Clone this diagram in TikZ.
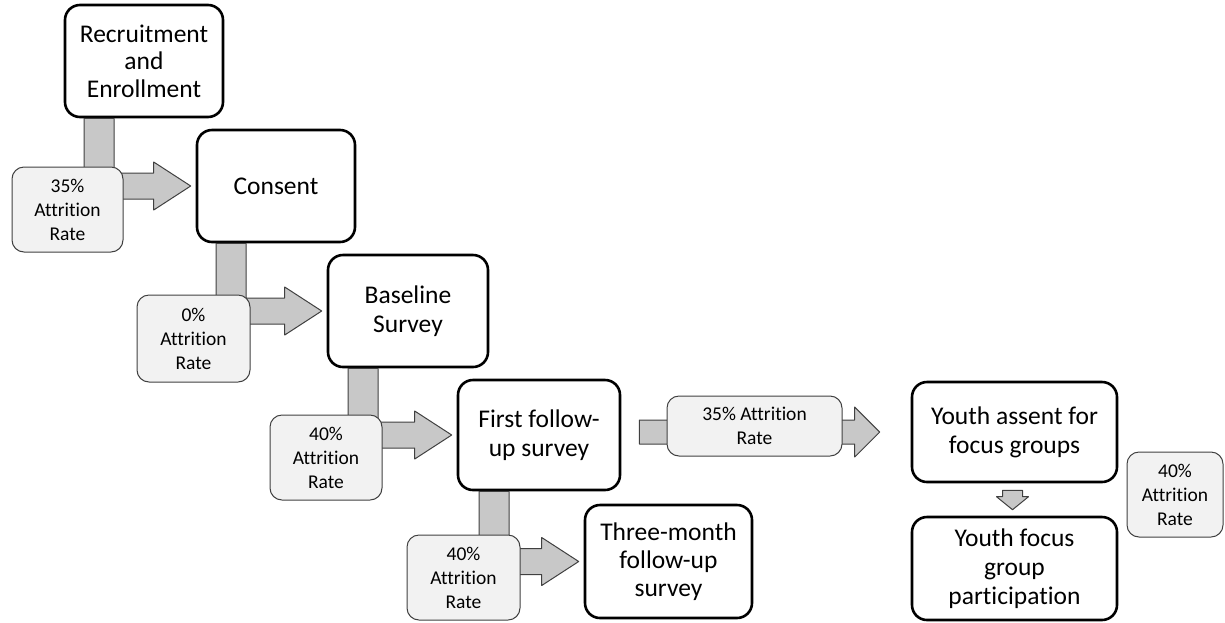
\documentclass[tikz,border=0pt]{standalone}
\usepackage{fontspec}
\setmainfont{Carlito}[Ligatures=NoCommon]
\usetikzlibrary{calc}
\definecolor{ratefill}{HTML}{F2F2F2}
\definecolor{arrowfill}{HTML}{C8C8C8}
\definecolor{edgegray}{HTML}{404040}
% bent arrow from the bottom of one stage to the left of the next
\newcommand{\bendarrow}[2]{%
  \draw[flow] let \p1=($(#1.south)+(-45,0)$), \p2=($(#2.west)+(-5,0)$) in
    (\x1-15pt,\y1) -- (\x1+15pt,\y1) -- (\x1+15pt,\y2+13pt) -- (\x2-37pt,\y2+13pt)
    -- (\x2-37pt,\y2+24pt) -- (\x2,\y2) -- (\x2-37pt,\y2-24pt) -- (\x2-37pt,\y2-13pt)
    -- (\x1-15pt,\y2-13pt) -- cycle;}
\begin{document}
\begin{tikzpicture}[x=1pt, y=-1pt, line join=round,
    stage/.style={draw=black, line width=2.6pt, fill=white, rounded corners=15pt,
      align=center, inner sep=0pt, font=\fontsize{25.5}{29}\selectfont},
    rate/.style={draw=edgegray, line width=1pt, fill=ratefill, rounded corners=12pt,
      align=center, inner sep=0pt, font=\fontsize{19.5}{24}\selectfont},
    flow/.style={draw=edgegray, line width=1pt, fill=arrowfill}]
        \useasboundingbox (0,0) rectangle (1225,622);
        % stages
        \node[stage, minimum width=158, minimum height=112, font=\fontsize{25.5}{27.5}\selectfont]
          (recruit) at (144,61) {Recruitment\\and\\Enrollment};
        \node[stage, minimum width=158, minimum height=112] (consent) at (276,186) {Consent};
        \node[stage, minimum width=160, minimum height=112] (baseline) at (408,311) {Baseline\\Survey};
        \node[stage, minimum width=162, minimum height=110] (first) at (539,435) {First follow-\\up survey};
        \node[stage, minimum width=167, minimum height=113, font=\fontsize{25.5}{28}\selectfont]
          (threemonth) at (668.5,561.5) {Three-month\\follow-up\\survey};
        \node[stage, minimum width=205, minimum height=100] (assent) at (1014.5,432) {Youth assent for\\focus groups};
        \node[stage, minimum width=205, minimum height=103] (focus) at (1014.5,568.5) {Youth focus\\group\\participation};
        % arrows
        \bendarrow{recruit}{consent}
        \bendarrow{consent}{baseline}
        \bendarrow{baseline}{first}
        \bendarrow{first}{threemonth}
        \draw[flow] let \p1=($(first.east)+(18,0)$), \p2=($(assent.west)+(-31,0)$) in
          (\x1,\y2+12pt) -- (\x2-25pt,\y2+12pt) -- (\x2-25pt,\y2+25pt) -- (\x2,\y2)
          -- (\x2-25pt,\y2-25pt) -- (\x2-25pt,\y2-12pt) -- (\x1,\y2-12pt) -- cycle;
        \draw[flow] let \p1=($(assent.south)+(-2,7)$), \p2=($(focus.north)+(-2,-6)$) in
          (\x1-10pt,\y1) -- (\x1+10pt,\y1) -- (\x1+10pt,\y2+13pt) -- (\x1+16pt,\y2+13pt)
          -- (\x1,\y2) -- (\x1-16pt,\y2+13pt) -- (\x1-10pt,\y2+13pt) -- cycle;
        % attrition rates
        \node[rate, minimum width=111, minimum height=85] (rate1) at (67.5,209.5) {35\%\\Attrition\\Rate};
        \node[rate, minimum width=113, minimum height=87] (rate2) at (193.5,338.5) {0\%\\Attrition\\Rate};
        \node[rate, minimum width=112, minimum height=85] (rate3) at (326,457.5) {40\%\\Attrition\\Rate};
        \node[rate, minimum width=113, minimum height=85] (rate4) at (463.5,577.5) {40\%\\Attrition\\Rate};
        \node[rate, minimum width=175, minimum height=60] (rate5) at (754.5,426) {35\% Attrition\\Rate};
        \node[rate, minimum width=96, minimum height=85] (rate6) at (1175,494.5) {40\%\\Attrition\\Rate};
    \end{tikzpicture}
\end{document}
